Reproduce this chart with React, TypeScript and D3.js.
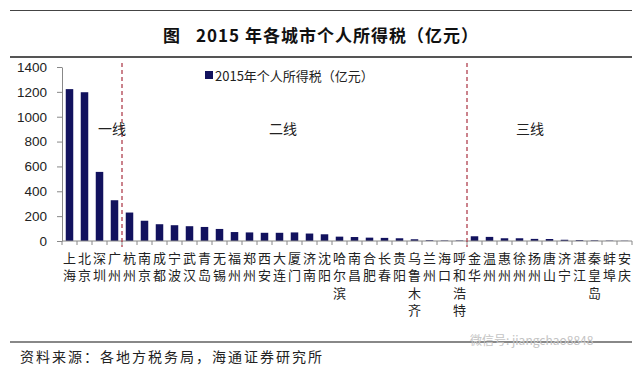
import React, { useRef, useEffect } from 'react';
import * as d3 from 'd3';

const cities = [
  '上海', '北京', '深圳', '广州',
  '杭州', '南京', '成都', '宁波', '武汉', '青岛', '无锡', '福州', '郑州', '西安', '大连', '厦门',
  '济南', '沈阳', '哈尔滨', '南昌', '合肥', '长春', '贵阳', '乌鲁木齐', '兰州', '海口', '呼和浩特',
  '金华', '温州', '惠州', '徐州', '扬州', '唐山', '济宁', '湛江', '秦皇岛', '蚌埠', '安庆',
];
const taxValues = [
  1222, 1197, 556, 328,
  229, 163, 135, 127, 119, 113, 97, 72, 69, 66, 66, 69,
  60, 54, 35, 32, 27, 25, 22, 14, 6, 4, 4,
  38, 33, 22, 22, 17, 16, 10, 7, 5, 3, 2,
];
const yTicks = [0, 200, 400, 600, 800, 1000, 1200, 1400];
const tiers = [
  { name: '一线', first: '上海' },
  { name: '二线', first: '杭州' },
  { name: '三线', first: '金华' },
];
const tierLabelX = [112, 283, 530];

const W = 640;
const H = 369;

function App() {
  const ref = useRef<SVGSVGElement>(null);

  useEffect(() => {
    const svg = d3.select(ref.current);
    svg.selectAll('*').remove();

    const x = d3.scaleBand<string>()
      .domain(cities)
      .range([62, 632])
      .paddingInner(0.5)
      .paddingOuter(0.25);
    const y = d3.scaleLinear().domain([0, 1400]).range([241, 67]);
    const step = x.step();
    const boundary = (c: string) => (x(c) as number) - step * 0.25;

    svg.append('rect').attr('width', W).attr('height', H).attr('fill', '#fff');

    // header
    svg.append('line').attr('x1', 10).attr('x2', 632).attr('y1', 10.5).attr('y2', 10.5)
      .attr('stroke', '#444').attr('stroke-width', 1.2);
    svg.append('line').attr('x1', 10).attr('x2', 632).attr('y1', 57).attr('y2', 57)
      .attr('stroke', '#555').attr('stroke-width', 2);
    const title = svg.append('g')
      .attr('font-family', '"Noto Sans CJK SC", sans-serif')
      .attr('font-size', 17).attr('font-weight', 'bold').attr('fill', '#111');
    title.append('text').attr('x', 163).attr('y', 34).attr('dominant-baseline', 'central').text('图');
    title.append('text').attr('x', 196).attr('y', 34).attr('dominant-baseline', 'central')
      .attr('letter-spacing', 1)
      .text('2015 年各城市个人所得税（亿元）');

    // bars
    svg.selectAll('rect.bar')
      .data(cities)
      .enter().append('rect')
      .attr('class', 'bar')
      .attr('x', d => x(d) as number)
      .attr('width', x.bandwidth())
      .attr('y', (_, i) => y(taxValues[i]))
      .attr('height', (_, i) => y(0) - y(taxValues[i]))
      .attr('fill', '#12125e');

    // y axis
    const yAxis = d3.axisLeft(y).tickValues(yTicks).tickFormat(d3.format('d'))
      .tickSize(5).tickSizeOuter(0).tickPadding(10);
    const gy = svg.append('g').attr('transform', 'translate(62,0)').call(yAxis);
    gy.select('.domain').attr('stroke', '#888');
    gy.selectAll('.tick line').attr('stroke', '#888');
    gy.selectAll('.tick text')
      .attr('font-family', '"Liberation Sans", Arial, sans-serif')
      .attr('font-size', 13.5).attr('fill', '#222');

    // x axis
    svg.append('line').attr('x1', 62).attr('x2', 632).attr('y1', y(0)).attr('y2', y(0))
      .attr('stroke', '#888');
    svg.selectAll('line.xtick')
      .data([...cities, null])
      .enter().append('line')
      .attr('class', 'xtick')
      .attr('x1', (d, i) => d ? boundary(d) : 62 + i * step)
      .attr('x2', (d, i) => d ? boundary(d) : 62 + i * step)
      .attr('y1', y(0)).attr('y2', y(0) + 4)
      .attr('stroke', '#888');

    // category labels, stacked vertically
    const lbl = svg.append('g')
      .attr('font-family', '"Noto Sans CJK SC", sans-serif')
      .attr('font-size', 13).attr('fill', '#222')
      .attr('text-anchor', 'middle');
    cities.forEach(c => {
      Array.from(c).forEach((ch, j) => {
        lbl.append('text')
          .attr('x', (x(c) as number) + x.bandwidth() / 2)
          .attr('y', 257 + j * 17.5)
          .attr('dominant-baseline', 'central')
          .text(ch);
      });
    });

    // tier dividers
    tiers.slice(1).forEach(t => {
      const bx = boundary(t.first);
      svg.append('line').attr('x1', bx).attr('x2', bx).attr('y1', 63).attr('y2', 247)
        .attr('stroke', '#b0404f').attr('stroke-width', 1.3).attr('stroke-dasharray', '4,3');
    });
    tiers.forEach((t, i) => {
      svg.append('text')
        .attr('x', tierLabelX[i]).attr('y', 128)
        .attr('text-anchor', 'middle').attr('dominant-baseline', 'central')
        .attr('font-family', '"Noto Sans CJK SC", sans-serif')
        .attr('font-size', 14).attr('fill', '#222')
        .text(t.name);
    });

    // legend
    svg.append('rect').attr('x', 205).attr('y', 71).attr('width', 8).attr('height', 8).attr('fill', '#12125e');
    svg.append('text')
      .attr('x', 215).attr('y', 75.5).attr('dominant-baseline', 'central')
      .attr('font-family', '"Noto Sans CJK SC", sans-serif')
      .attr('font-size', 13).attr('fill', '#222')
      .text('2015年个人所得税（亿元）');

    // footer
    svg.append('line').attr('x1', 10).attr('x2', 632).attr('y1', 342).attr('y2', 342)
      .attr('stroke', '#888').attr('stroke-width', 2);
    svg.append('text')
      .attr('x', 470).attr('y', 339).attr('dominant-baseline', 'central')
      .attr('font-family', '"Noto Sans CJK SC", sans-serif')
      .attr('font-size', 12).attr('fill', '#c4c4c4')
      .text('微信号: jiangchao8848');
    svg.append('text')
      .attr('x', 20).attr('y', 356).attr('dominant-baseline', 'central')
      .attr('font-family', '"Noto Sans CJK SC", sans-serif')
      .attr('font-size', 14).attr('letter-spacing', 2).attr('fill', '#222')
      .text('资料来源：各地方税务局，海通证券研究所');
  }, []);

  return (
    <svg ref={ref} width={W} height={H} style={{ position: 'absolute', left: 0, top: 0 }} />
  );
}

export default App;
